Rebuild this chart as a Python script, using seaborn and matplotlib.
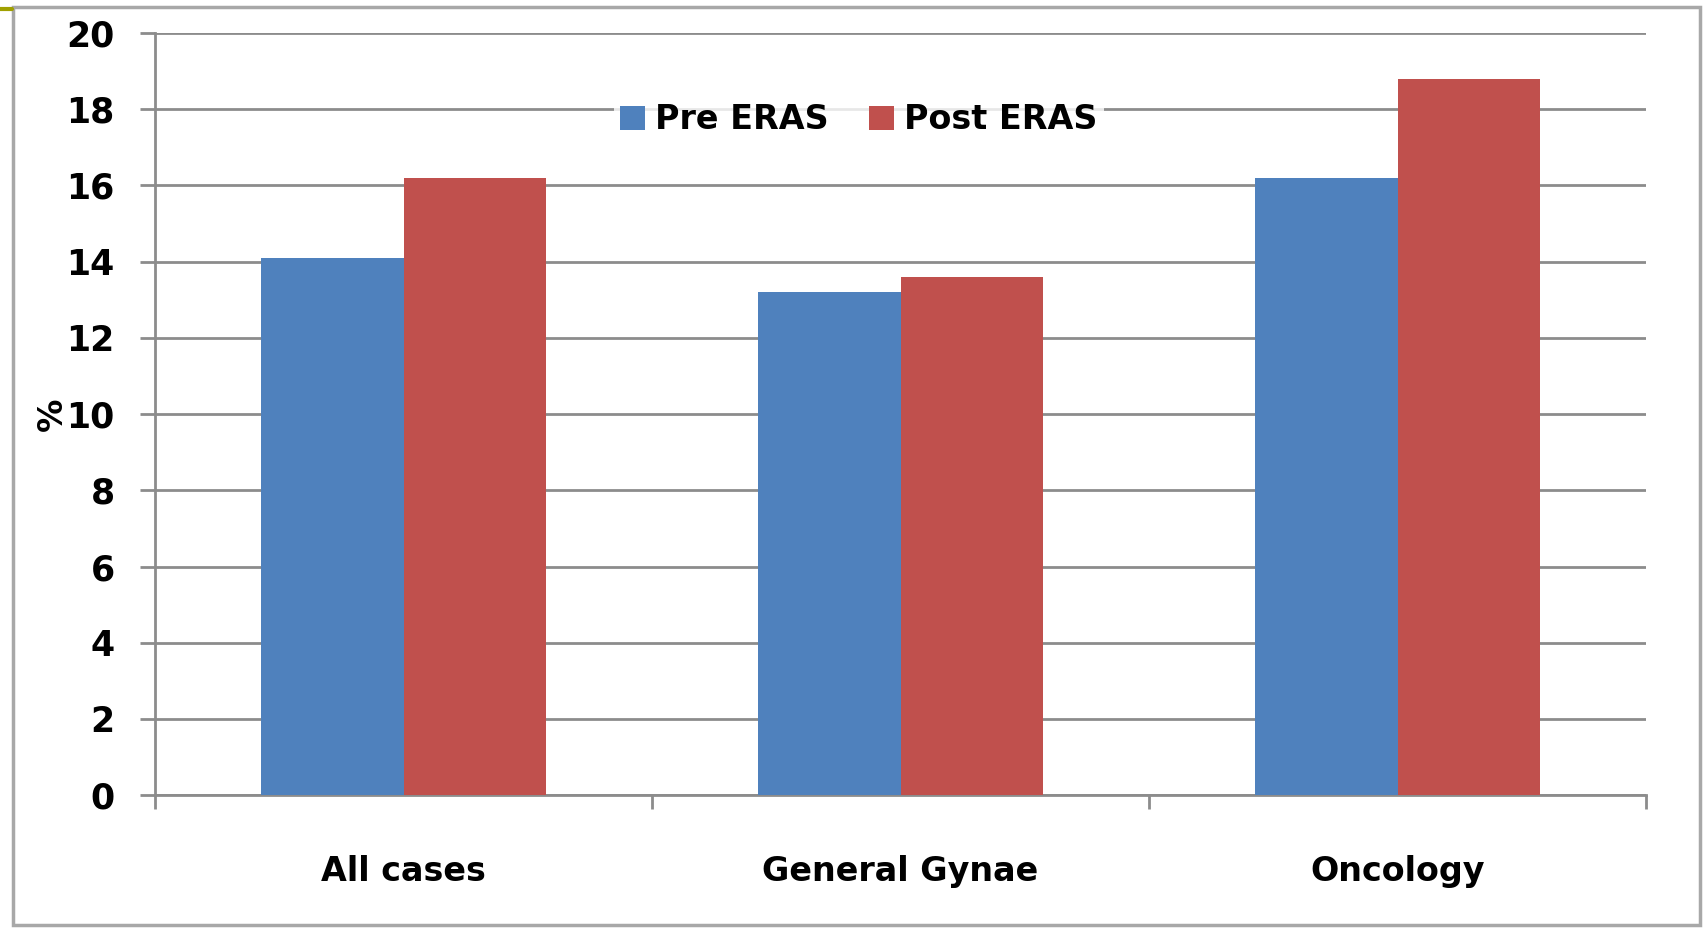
import pandas as pd
import seaborn as sns
import matplotlib.pyplot as plt
from matplotlib.lines import Line2D
from matplotlib.patches import Rectangle


categories = ["All cases", "General Gynae", "Oncology"]
groups = ["Pre ERAS", "Post ERAS"]
pre_eras = [14.1, 13.2, 16.2]
post_eras = [16.2, 13.6, 18.8]
y_ticks = [0, 2, 4, 6, 8, 10, 12, 14, 16, 18, 20]

palette = {"Pre ERAS": "#4F81BD", "Post ERAS": "#C0504D"}
grid_color = "#8c8c8c"

sns.set_theme(style="white")
plt.rcParams["font.family"] = ["DejaVu Sans"]
plt.rcParams["font.weight"] = "bold"
plt.rcParams["text.color"] = "black"
plt.rcParams["xtick.labelcolor"] = "black"
plt.rcParams["ytick.labelcolor"] = "black"
plt.rcParams["axes.labelcolor"] = "black"

data = pd.DataFrame({
    "category": categories * 2,
    "group": [groups[0]] * len(categories) + [groups[1]] * len(categories),
    "value": pre_eras + post_eras,
})

fig = plt.figure(figsize=(17.04, 9.30), dpi=100)
ax = fig.add_axes([0.091, 0.145, 0.875, 0.8195])

sns.barplot(data=data, x="category", y="value", hue="group", order=categories,
            hue_order=groups, palette=palette, width=0.575, gap=0, saturation=1,
            edgecolor="none", linewidth=0, ax=ax, zorder=3)

ax.set_ylim(0, 20)
ax.set_xlim(-0.5, 2.5)
ax.set_yticks(y_ticks)
ax.set_yticklabels([str(v) for v in y_ticks], fontsize=25, fontweight="heavy")
ax.set_xticks(range(len(categories)))
ax.set_xticklabels(categories, fontsize=24, fontweight="heavy")
ax.set_xticks([-0.5, 0.5, 1.5, 2.5], minor=True)

ax.yaxis.grid(True, color=grid_color, linewidth=2, zorder=0)
ax.set_axisbelow(True)
ax.tick_params(axis="y", which="major", length=11, width=2, color=grid_color, pad=18, left=True)
ax.tick_params(axis="x", which="major", length=0, pad=43)
ax.tick_params(axis="x", which="minor", length=10, width=2, color=grid_color, bottom=True)

for side in ["top", "right"]:
    ax.spines[side].set_visible(False)
for side in ["left", "bottom"]:
    ax.spines[side].set_color(grid_color)
    ax.spines[side].set_linewidth(2)

ax.set_xlabel("")
ax.set_ylabel("%", fontsize=24, fontweight="heavy")
ax.yaxis.set_label_coords(-0.058, 0.5)

leg = ax.legend(loc="center", bbox_to_anchor=(0.472, 0.886), ncol=2, frameon=True,
                fontsize=24, handlelength=0.75, handleheight=0.75, handletextpad=0.3,
                columnspacing=1.2, borderpad=0.2)
leg.get_frame().set_facecolor("white")
leg.get_frame().set_edgecolor("none")
for t in leg.get_texts():
    t.set_fontweight("heavy")
    t.set_color("black")

# outer chart border and small corner mark
fig.patches.append(Rectangle((13 / 1704, 5 / 930), 1687 / 1704, 918 / 930,
                             transform=fig.transFigure, fill=False,
                             edgecolor="#a8a8a8", linewidth=2.5))
fig.lines.append(Line2D([0, 12 / 1704], [1 - 9 / 930, 1 - 9 / 930],
                        transform=fig.transFigure, color="#a0a000", linewidth=3))

fig.savefig("out.png", dpi=100)
